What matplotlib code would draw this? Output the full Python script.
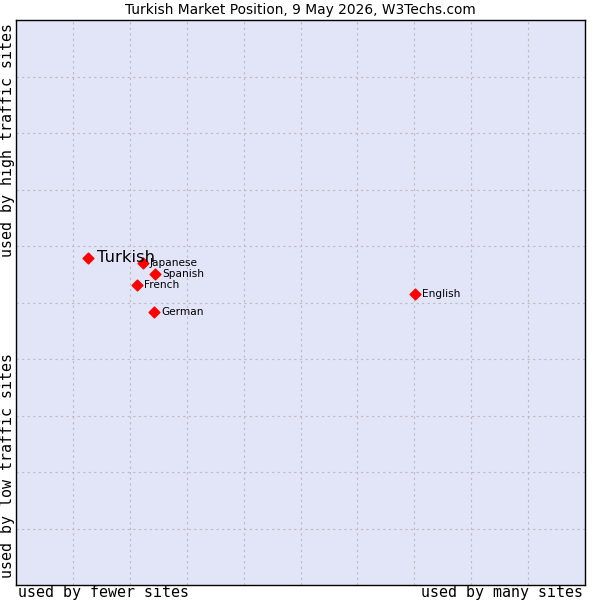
import matplotlib
matplotlib.use("Agg")
import matplotlib.pyplot as plt

# positions on a 0..10 scale
languages = ["Turkish", "Japanese", "Spanish", "French", "German", "English"]
traffic_x = [1.27, 2.23, 2.45, 2.13, 2.43, 7.02]
traffic_y = [5.79, 5.70, 5.51, 5.31, 4.84, 5.15]

fig = plt.figure(figsize=(6, 6), dpi=100)
ax = fig.add_axes([16/600, 15/600, 569/600, 565/600])
ax.set_facecolor("#e2e4f7")
ax.set_xlim(0, 10)
ax.set_ylim(0, 10)
ax.set_xticks(range(1, 10))
ax.set_yticks(range(1, 10))
ax.tick_params(length=0, labelbottom=False, labelleft=False)
ax.grid(True, color="#bcbcbc", linestyle=(0, (2, 3)), linewidth=0.8)
for s in ax.spines.values():
    s.set_linewidth(1)
    s.set_color("black")

ax.scatter(traffic_x, traffic_y, marker="D", s=30, color="red", zorder=3)
for name, x, y in zip(languages, traffic_x, traffic_y):
    big = name == "Turkish"
    ax.annotate(name, (x, y), xytext=(6 if big else 5, 0), textcoords="offset points",
                va="center", fontsize=11.8 if big else 7.6, color="black", zorder=4)

fig.text(0.5, 0.983, "Turkish Market Position, 9 May 2026, W3Techs.com",
         ha="center", va="center", fontsize=9.9)
mono = dict(family="DejaVu Sans Mono", fontsize=10.8)
fig.text(18/600, 8/600, "used by fewer sites", ha="left", va="center", **mono)
fig.text(583/600, 8/600, "used by many sites", ha="right", va="center", **mono)
fig.text(8/600, 1 - 140/600, "used by high traffic sites", rotation=90,
         ha="center", va="center", **mono)
fig.text(8/600, 1 - 466/600, "used by low traffic sites", rotation=90,
         ha="center", va="center", **mono)

fig.savefig("out.png", dpi=100)
